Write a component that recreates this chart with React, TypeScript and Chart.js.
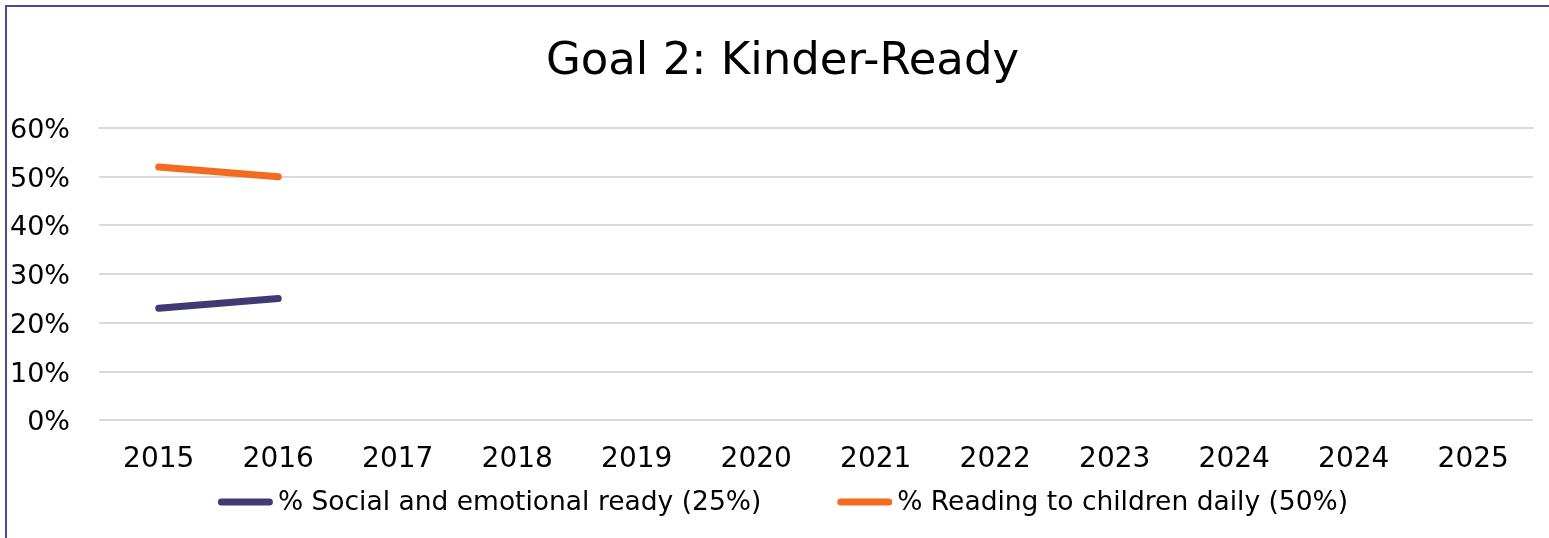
import React, { useEffect, useRef } from "react";
import { Chart, registerables } from "chart.js";

Chart.register(...registerables);

const chartTitle = "Goal 2: Kinder-Ready";
const categories = ["2015", "2016", "2017", "2018", "2019", "2020", "2021", "2022", "2023", "2024", "2024", "2025"];
const socialEmotionalLabel = "% Social and emotional ready (25%)";
const socialEmotional = [23, 25, null, null, null, null, null, null, null, null, null, null];
const readingLabel = "% Reading to children daily (50%)";
const readingDaily = [52, 50, null, null, null, null, null, null, null, null, null, null];
const yMin = 0;
const yMax = 60;
const yStep = 10;

const FONT = "'DejaVu Sans', sans-serif";

const lineLegend = {
  id: "lineLegend",
  afterDraw(chart: any) {
    const ctx = chart.ctx;
    const fontSize = 26.5;
    const lineW = 55;
    const gapText = 5;
    const gapItems = 76;
    ctx.save();
    ctx.font = `${fontSize}px ${FONT}`;
    const items = chart.data.datasets.map((ds: any) => ({
      label: ds.label,
      color: ds.borderColor,
      width: lineW + gapText + ctx.measureText(ds.label).width,
    }));
    const total = items.reduce((s: number, it: any) => s + it.width, 0) + gapItems * (items.length - 1);
    let x = 776 - total / 2;
    const y = 495;
    items.forEach((it: any) => {
      ctx.strokeStyle = it.color;
      ctx.lineWidth = 7;
      ctx.lineCap = "round";
      ctx.beginPath();
      ctx.moveTo(x + 3.5, y);
      ctx.lineTo(x + lineW - 3.5, y);
      ctx.stroke();
      ctx.fillStyle = "#000";
      ctx.textBaseline = "middle";
      ctx.textAlign = "left";
      ctx.fillText(it.label, x + lineW + gapText, y + 1);
      x += it.width + gapItems;
    });
    ctx.restore();
  },
};

export default function App() {
  const ref = useRef<HTMLCanvasElement | null>(null);

  useEffect(() => {
    if (!ref.current) return;
    const chart = new Chart(ref.current, {
      type: "line",
      data: {
        labels: categories,
        datasets: [
          {
            label: socialEmotionalLabel,
            data: socialEmotional,
            borderColor: "#403A74",
            backgroundColor: "#403A74",
            borderWidth: 7,
            borderCapStyle: "round",
            pointRadius: 0,
            tension: 0,
          },
          {
            label: readingLabel,
            data: readingDaily,
            borderColor: "#F36B1F",
            backgroundColor: "#F36B1F",
            borderWidth: 7,
            borderCapStyle: "round",
            pointRadius: 0,
            tension: 0,
          },
        ],
      },
      options: {
        animation: false,
        responsive: false,
        maintainAspectRatio: false,
        layout: { padding: { top: 0, left: 0, right: 0, bottom: 43 } },
        plugins: {
          title: {
            display: true,
            text: chartTitle,
            color: "#000",
            font: { family: FONT, size: 45, weight: "normal" },
            padding: { top: 28, bottom: 39 },
          },
          legend: { display: false },
          tooltip: { enabled: false },
        },
        scales: {
          x: {
            offset: true,
            grid: { display: false, drawTicks: false },
            border: { display: false },
            ticks: {
              color: "#000",
              font: { family: FONT, size: 28 },
              padding: 23,
              maxRotation: 0,
              autoSkip: false,
            },
          },
          y: {
            min: yMin,
            max: yMax,
            grid: { color: "#D9D9D9", lineWidth: 2, drawTicks: false },
            border: { display: false },
            ticks: {
              stepSize: yStep,
              color: "#000",
              font: { family: FONT, size: 27 },
              padding: 29,
              labelOffset: 3,
              callback: (v: any) => v + "%",
            },
            afterFit: (scale: any) => {
              scale.width = 92;
            },
          },
          yRightSpacer: {
            position: "right",
            min: yMin,
            max: yMax,
            grid: { display: false, drawTicks: false },
            border: { display: false },
            ticks: { display: false },
            afterFit: (scale: any) => {
              scale.width = 25;
            },
          },
        },
      },
      plugins: [lineLegend],
    });
    return () => chart.destroy();
  }, []);

  return (
    <div style={{ position: "fixed", left: 0, top: 0, width: 1549, height: 538, overflow: "hidden", background: "#fff" }}>
      <div
        style={{
          position: "absolute",
          left: 5,
          top: 5,
          width: 1555,
          height: 540,
          boxSizing: "border-box",
          border: "2px solid #4E4A8C",
        }}
      >
        <canvas ref={ref} width={1551} height={536} style={{ display: "block", width: 1551, height: 536 }} />
      </div>
    </div>
  );
}
